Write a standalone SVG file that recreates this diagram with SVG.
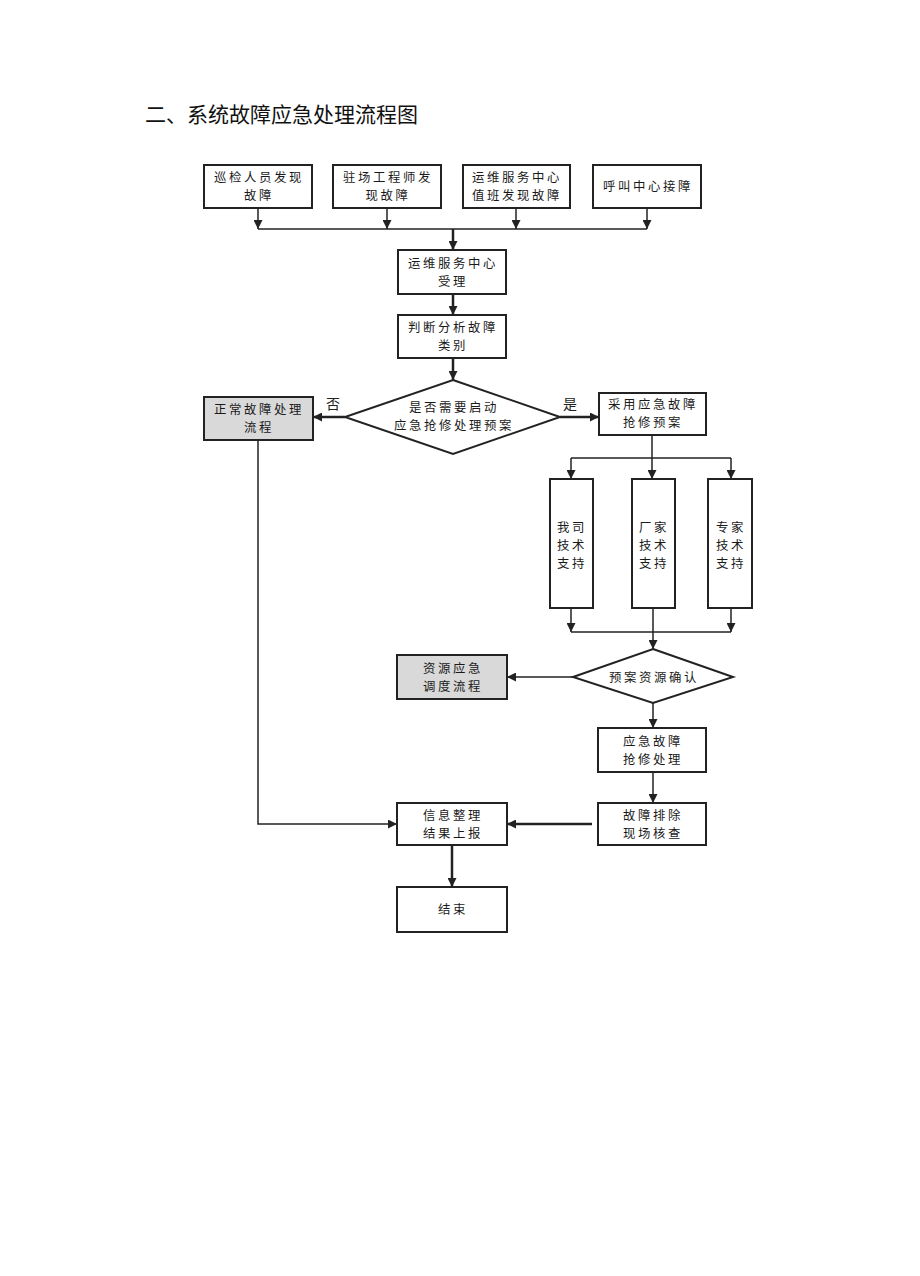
<svg xmlns="http://www.w3.org/2000/svg" width="920" height="1276" viewBox="0 0 920 1276">
<style>
.box{fill:#fff;stroke:#222;stroke-width:2}
.gray{fill:#d9d9d9;stroke:#222;stroke-width:2}
.t{font-family:"Noto Sans CJK SC","Noto Sans CJK JP",sans-serif;font-size:12.4px;fill:#1a1a1a;text-anchor:middle;letter-spacing:2.6px}
.lbl{font-family:"Noto Sans CJK SC","Noto Sans CJK JP",sans-serif;font-size:14px;fill:#222}
.c{fill:none;stroke:#222;stroke-width:1.5}
.ct{fill:none;stroke:#222;stroke-width:2.5}
</style>
<defs>
<marker id="ah" viewBox="0 0 10 10" refX="10" refY="5" markerWidth="9" markerHeight="9" markerUnits="userSpaceOnUse" orient="auto">
<path d="M0,0 L10,5 L0,10 Z" fill="#222"/>
</marker>
</defs>
<rect width="920" height="1276" fill="#fff"/>
<text x="145" y="122" font-family="'Noto Sans CJK SC',sans-serif" font-size="21" fill="#111">二、系统故障应急处理流程图</text>

<g id="connectors">
<path class="c" d="M258,208 V229" marker-end="url(#ah)"/>
<path class="c" d="M387,208 V229" marker-end="url(#ah)"/>
<path class="c" d="M516,208 V229" marker-end="url(#ah)"/>
<path class="c" d="M647,208 V229" marker-end="url(#ah)"/>
<path class="c" d="M258,229 H647"/>
<path class="ct" d="M453,229 V250" marker-end="url(#ah)"/>
<path class="ct" d="M453,294 V315" marker-end="url(#ah)"/>
<path class="ct" d="M453,358 V380" marker-end="url(#ah)"/>
<path class="ct" d="M345,417 H313" marker-end="url(#ah)"/>
<path class="ct" d="M560,417 H599" marker-end="url(#ah)"/>
<path class="c" d="M652,435 V479" marker-end="url(#ah)"/>
<path class="c" d="M571,458 H731"/>
<path class="c" d="M571,458 V479" marker-end="url(#ah)"/>
<path class="c" d="M731,458 V479" marker-end="url(#ah)"/>
<path class="c" d="M571,608 V632" marker-end="url(#ah)"/>
<path class="c" d="M731,608 V632" marker-end="url(#ah)"/>
<path class="c" d="M571,632 H731"/>
<path class="c" d="M653,608 V649" marker-end="url(#ah)"/>
<path class="c" d="M573,677 H507" marker-end="url(#ah)"/>
<path class="c" d="M653,703 V728" marker-end="url(#ah)"/>
<path class="c" d="M653,772 V803" marker-end="url(#ah)"/>
<path class="ct" d="M592,824 H507" marker-end="url(#ah)"/>
<path class="c" d="M258,440 V824 H397" marker-end="url(#ah)"/>
<path class="ct" d="M452,845 V887" marker-end="url(#ah)"/>
<text class="lbl" x="326" y="409">否</text>
<text class="lbl" x="563" y="409">是</text>
</g>

<g id="n1"><rect class="box" x="204" y="165" width="108" height="43"/><text class="t" x="259" y="182">巡检人员发现</text><text class="t" x="259" y="200">故障</text></g>
<g id="n2"><rect class="box" x="333" y="165" width="108" height="43"/><text class="t" x="388" y="182">驻场工程师发</text><text class="t" x="388" y="200">现故障</text></g>
<g id="n3"><rect class="box" x="463" y="165" width="107" height="43"/><text class="t" x="517" y="182">运维服务中心</text><text class="t" x="517" y="200">值班发现故障</text></g>
<g id="n4"><rect class="box" x="593" y="165" width="108" height="43"/><text class="t" x="648" y="191">呼叫中心接障</text></g>
<g id="n5"><rect class="box" x="398" y="250" width="108" height="44"/><text class="t" x="453" y="268">运维服务中心</text><text class="t" x="453" y="286">受理</text></g>
<g id="n6"><rect class="box" x="398" y="315" width="108" height="43"/><text class="t" x="453" y="332">判断分析故障</text><text class="t" x="453" y="350">类别</text></g>
<g id="n7"><polygon class="box" points="453,380 560,417 453,454 345,417"/><text class="t" x="454" y="412">是否需要启动</text><text class="t" x="454" y="430">应急抢修处理预案</text></g>
<g id="n8"><rect class="gray" x="204" y="397" width="109" height="43"/><text class="t" x="259" y="414">正常故障处理</text><text class="t" x="259" y="432">流程</text></g>
<g id="n9"><rect class="box" x="599" y="393" width="107" height="42"/><text class="t" x="653" y="409">采用应急故障</text><text class="t" x="653" y="427">抢修预案</text></g>
<g id="n10"><rect class="box" x="550" y="479" width="43" height="129"/><text class="t" x="572" y="532">我司</text><text class="t" x="572" y="550">技术</text><text class="t" x="572" y="568">支持</text></g>
<g id="n11"><rect class="box" x="632" y="479" width="43" height="129"/><text class="t" x="654" y="532">厂家</text><text class="t" x="654" y="550">技术</text><text class="t" x="654" y="568">支持</text></g>
<g id="n12"><rect class="box" x="708" y="479" width="44" height="129"/><text class="t" x="731" y="532">专家</text><text class="t" x="731" y="550">技术</text><text class="t" x="731" y="568">支持</text></g>
<g id="n13"><polygon class="box" points="653,649 733,677 653,703 573,677"/><text class="t" x="654" y="682">预案资源确认</text></g>
<g id="n14"><rect class="gray" x="397" y="655" width="110" height="44"/><text class="t" x="453" y="673">资源应急</text><text class="t" x="453" y="691">调度流程</text></g>
<g id="n15"><rect class="box" x="598" y="728" width="108" height="44"/><text class="t" x="653" y="746">应急故障</text><text class="t" x="653" y="764">抢修处理</text></g>
<g id="n16"><rect class="box" x="598" y="803" width="108" height="42"/><text class="t" x="653" y="820">故障排除</text><text class="t" x="653" y="838">现场核查</text></g>
<g id="n17"><rect class="box" x="397" y="803" width="110" height="42"/><text class="t" x="453" y="820">信息整理</text><text class="t" x="453" y="838">结果上报</text></g>
<g id="n18"><rect class="box" x="397" y="887" width="110" height="45"/><text class="t" x="453" y="914">结束</text></g>
</svg>
